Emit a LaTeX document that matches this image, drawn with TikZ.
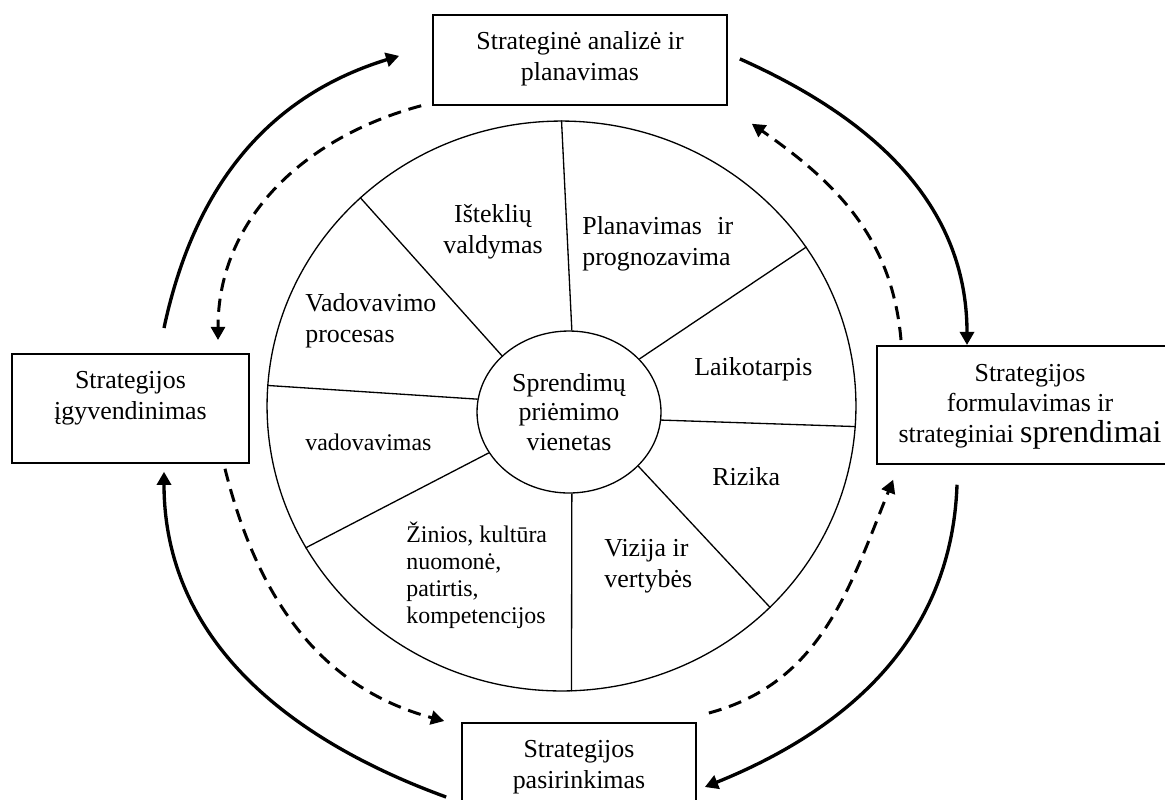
\documentclass[tikz,border=0pt]{standalone}
\usepackage{fontspec}
\setmainfont{Liberation Serif}
\usetikzlibrary{arrows.meta, shapes.geometric}

\begin{document}
\begin{tikzpicture}[x=0.02cm, y=0.02cm,
    stage box/.style={draw, rectangle, line width=1pt, inner sep=0pt, align=center, anchor=north, font=\fontsize{14.75}{17.6}\selectfont},
    ring/.style={draw, ellipse, line width=0.75pt, inner sep=0pt},
    part label/.style={inner sep=0pt, align=left, anchor=base west, font=\fontsize{14.75}{17.6}\selectfont},
    small label/.style={part label, font=\fontsize{13.6}{15.3}\selectfont},
    main arrow/.style={line width=1.9pt, -{Triangle[length=7.5pt,width=8pt]}},
    back arrow/.style={main arrow, line width=1.7pt, dash pattern=on 7.5pt off 4.5pt}]
\useasboundingbox (0,0) rectangle (1165,-799);
\clip (0,0) rectangle (1165,-799);

% the wheel
\node[ring, minimum width=11.78cm, minimum height=11.4cm] (wheel) at (561.5,-406) {};
\node[ring, minimum width=3.68cm, minimum height=3.24cm, align=center, font=\fontsize{14.75}{17}\selectfont] (hub) at (569,-412) {Sprendimų\\priėmimo\\vienetas};
\foreach \a/\b in {88/90, 37/33, -5/-4, -38/-44, -88/-88, 207/209, 172/176, 140/134}
    \draw[line width=0.75pt] (hub.\a) -- (wheel.\b);

% sectors (base = last line)
\node[part label, align=center, anchor=base] (resources) at (493,-253) {Išteklių\\valdymas};
\node[part label] (planning) at (582,-265) {Planavimas\hspace{0.6em}ir\\prognozavima};
\node[part label] (process) at (305,-342) {Vadovavimo\\procesas};
\node[part label] (period) at (694,-375) {Laikotarpis};
\node[small label] (leading) at (305,-450) {vadovavimas};
\node[part label] (risk) at (712,-485) {Rizika};
\node[part label] (vision) at (604,-587) {Vizija ir\\vertybės};
\node[small label] (knowledge) at (406,-623) {Žinios, kultūra\\nuomonė,\\patirtis,\\kompetencijos};

% stages
\node[stage box, minimum width=5.88cm, text height=1.32cm, text depth=0.48cm] (top) at (580,-14) {Strateginė analizė ir\\planavimas};
\node[stage box, minimum width=4.74cm, text height=1.32cm, text depth=0.86cm] (left) at (130.5,-353) {Strategijos\\įgyvendinimas};
\node[stage box, minimum width=6.12cm, text height=1.94cm, text depth=0.42cm] (right) at (1030,-345) {Strategijos\\formulavimas ir\\strateginiai {\fontsize{18.1}{20}\selectfont sprendimai}};
\node[stage box, minimum width=4.68cm, text height=1.32cm, text depth=2cm] (bottom) at (579,-722) {Strategijos\\pasirinkimas};

% cycle
\draw[main arrow] ([shift={(33.5,25)}]left.north) to[out=78, in=197] ([shift={(-33,4)}]top.west);
\draw[back arrow] ([shift={(-11,0)}]top.south west) to[out=195, in=90] ([shift={(87.5,13)}]left.north);
\draw[main arrow] ([shift={(12,1)}]top.east) to[out=-24, in=90] ([shift={(-63,0)}]right.north);
\draw[back arrow] ([shift={(-129,5)}]right.north) to[out=95, in=-35] ([shift={(24,-18)}]top.south east);
\draw[main arrow] ([shift={(-73,-20)}]right.south) to[out=268, in=22] ([shift={(8,-65)}]bottom.north east);
\draw[back arrow] ([shift={(12,9)}]bottom.north east) to[out=15, in=248] ([shift={(17,-15)}]right.south west);
\draw[main arrow] ([shift={(-15,-75)}]bottom.north west) to[out=160, in=270] ([shift={(33.5,-8)}]left.south);
\draw[back arrow] ([shift={(94.5,-5)}]left.south) to[out=-76, in=165] ([shift={(-17,1)}]bottom.north west);
\end{tikzpicture}
\end{document}
